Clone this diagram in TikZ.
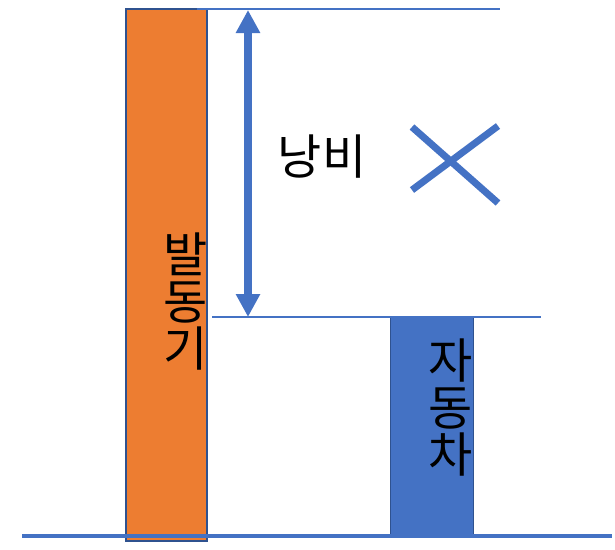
\documentclass[tikz,border=0pt]{standalone}
\usepackage{fontspec}
\setmainfont{Noto Sans CJK KR}
\usepackage{xcolor}
\usetikzlibrary{arrows.meta, positioning}
\definecolor{barorange}{HTML}{ED7D31}
\definecolor{barblue}{HTML}{4472C4}
\definecolor{edgeblue}{HTML}{2F528F}

\begin{document}
\begin{tikzpicture}[x=1pt, y=-1pt,
    bar/.style={draw=edgeblue, line width=1.5pt, inner sep=0pt, anchor=north west},
    guide/.style={barblue, line width=2.3pt},
    hanlabel/.style={font=\fontsize{48}{47}\selectfont, align=center, inner sep=0pt},
    gap/.style={barblue, line width=8pt, {Triangle[width=23pt,length=23pt]}-{Triangle[width=23pt,length=23pt]}}]
    \useasboundingbox (0,0) rectangle (615,549);
    % Barres
    \node[bar, fill=barorange, minimum width=81pt, minimum height=532pt] (engine) at (125,8) {};
    \node[bar, fill=barblue, line width=1pt, minimum width=83pt, minimum height=219pt] (car) at (390,317) {};
    % Textes verticaux
    \node[hanlabel] (enginetext) at (186,302) {발\\동\\기};
    \node[hanlabel] (cartext) at (451,408) {자\\동\\차};
    % Lignes de niveau
    \coordinate (topstart) at (197,9);
    \coordinate (topend) at (500,9);
    \coordinate (midstart) at (212,317);
    \coordinate (midend) at (541,317);
    \coordinate (groundstart) at (22,536);
    \coordinate (groundend) at (612,536);
    \draw[guide] (topstart) -- (topend);
    \draw[guide] (midstart) -- (midend);
    \draw[barblue, line width=4pt] (groundstart) -- (groundend);
    % Fleche d'ecart
    \coordinate (gaptop) at (248,10);
    \coordinate (gapbottom) at (248,317);
    \draw[gap] (gaptop) -- (gapbottom);
    \node[hanlabel] (waste) at (322,157) {낭비};
    % Croix
    \draw[barblue, line width=7pt] (412,127) -- (498,203);
    \draw[barblue, line width=7pt] (412,190) -- (498,126);
\end{tikzpicture}
\end{document}
